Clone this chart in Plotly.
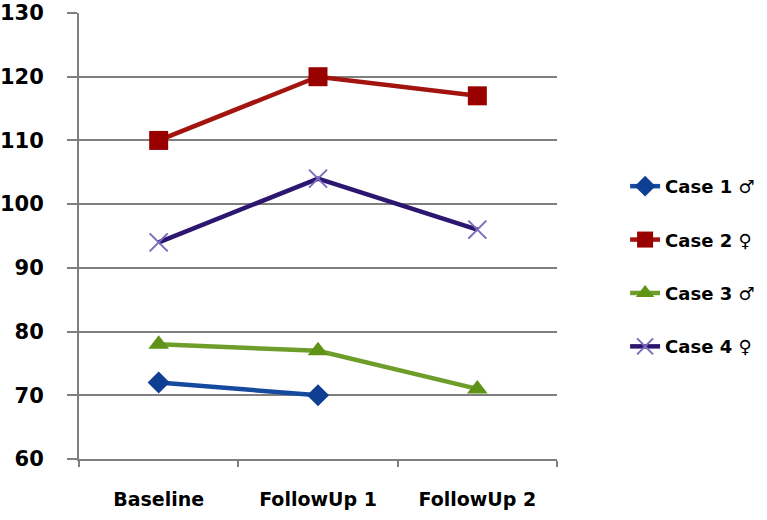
import plotly.graph_objects as go

visits = ['Baseline', 'FollowUp 1', 'FollowUp 2']

case1 = [72, 70, None]
case2 = [110, 120, 117]
case3 = [78, 77, 71]
case4 = [94, 104, 96]

names = ['Case 1 ♂', 'Case 2 ♀', 'Case 3 ♂', 'Case 4 ♀']
line_colors = ['#154a9e', '#a3140f', '#6e9e2a', '#2c1670']
marker_colors = ['#0f3f92', '#990000', '#5f9316', '#7b6bbd']
symbols = ['diamond', 'square', 'triangle-up', 'x-thin']
sizes = [17, 19, 18, 18]

fig = go.Figure()
for i, vals in enumerate([case1, case2, case3, case4]):
    marker = dict(symbol=symbols[i], size=sizes[i], color=marker_colors[i])
    if symbols[i] == 'x-thin':
        marker['line'] = dict(color=marker_colors[i], width=2)
    fig.add_trace(go.Scatter(
        x=visits, y=vals, name=names[i], mode='lines+markers',
        line=dict(color=line_colors[i], width=4.5),
        marker=marker, legendgroup=str(i),
    ))

ytick_font = dict(family='DejaVu Sans', size=21, color='black', weight='bold')
xtick_font = dict(family='DejaVu Sans', size=19, color='black', weight='bold')

fig.update_layout(
    width=767, height=520,
    margin=dict(l=79, r=210, t=13, b=61),
    plot_bgcolor='white', paper_bgcolor='white',
    showlegend=True,
    legend=dict(xref='container', yref='container', x=0.815, y=0.677,
                xanchor='left', yanchor='top', borderwidth=0,
                font=dict(family='DejaVu Sans', size=18, color='black', weight='bold'),
                tracegroupgap=27, bgcolor='rgba(0,0,0,0)'),
    xaxis=dict(
        type='category', range=[-0.5, 2.5], showgrid=False, automargin=False,
        showline=True, linecolor='#7f7f7f', linewidth=2,
        ticks='outside', tickson='boundaries', ticklen=6, tickcolor='#7f7f7f', tickwidth=2,
        tickfont=xtick_font, ticklabelstandoff=22,
    ),
    yaxis=dict(
        range=[60, 130], dtick=10, showgrid=True, gridcolor='#7f7f7f', gridwidth=2,
        showline=True, linecolor='#7f7f7f', linewidth=2, zeroline=False, automargin=False,
        ticks='outside', ticklen=10, tickcolor='#7f7f7f', tickwidth=2,
        tickfont=ytick_font, ticklabelstandoff=19,
    ),
)

# drop the browser's default body margin so the figure fills the window
fig.write_html('out.html', config={'displayModeBar': False},
               post_script="document.body.style.margin='0';")
